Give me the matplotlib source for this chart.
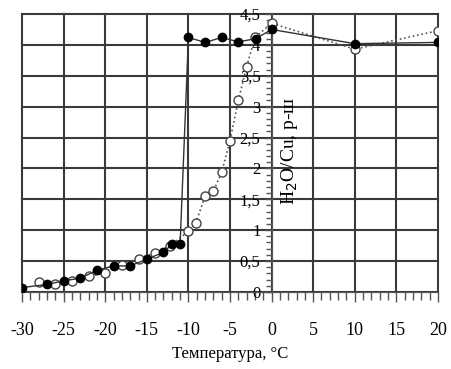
import numpy as np
import matplotlib
matplotlib.use('Agg')
import matplotlib.pyplot as plt
from matplotlib.ticker import MultipleLocator, FuncFormatter

# filled circles, solid line
t_solid = [-30, -27, -25, -23, -21, -19, -17, -15, -13, -12, -11, -10, -8, -6, -4, -1.9, 0, 10, 20]
r_solid = [0.07, 0.12, 0.18, 0.22, 0.35, 0.42, 0.42, 0.53, 0.64, 0.77, 0.78, 4.12, 4.04, 4.12, 4.05, 4.1, 4.25, 4.02, 4.04]

# open circles, dotted line
t_open = [-28, -26, -24, -22, -20, -18, -16, -14, -12.2, -10, -9.1, -8, -7, -6, -5, -4, -3, -2, 0, 10, 20]
r_open = [0.16, 0.12, 0.17, 0.25, 0.31, 0.44, 0.54, 0.63, 0.75, 0.98, 1.12, 1.55, 1.63, 1.94, 2.45, 3.1, 3.65, 4.12, 4.35, 3.93, 4.23]

plt.rcParams['font.family'] = ['Liberation Serif', 'DejaVu Serif']

fig = plt.figure(figsize=(4.51, 3.69), dpi=100)
ax = fig.add_axes([0.049, 0.209, 0.922, 0.753])

ax.plot(t_open, r_open, ':', color='#555555', lw=1.2, marker='o', ms=6.5,
        mfc='white', mec='#444444', mew=1.0, zorder=3)
ax.plot(t_solid, r_solid, '-', color='#333333', lw=1.0, marker='o', ms=6,
        mfc='black', mec='black', zorder=4)

ax.set_xlim(-30, 20)
ax.set_ylim(0, 4.5)
ax.xaxis.set_major_locator(MultipleLocator(5))
ax.xaxis.set_minor_locator(MultipleLocator(1))
ax.yaxis.set_major_locator(MultipleLocator(0.5))
ax.yaxis.set_minor_locator(MultipleLocator(0.1))

ax.grid(True, which='major', color='#3a3a3a', lw=1.5, clip_on=False)
ax.set_axisbelow(True)

ax.spines['left'].set_position(('data', 0))
ax.spines['top'].set_visible(False)
ax.spines['right'].set_visible(False)
ax.spines['left'].set_color('#555555')
ax.spines['bottom'].set_color('#555555')

ax.tick_params(axis='x', which='major', direction='out', length=7, width=1, pad=15,
               labelsize=13, color='#555555')
ax.tick_params(axis='x', which='minor', direction='out', length=6, width=1, color='#555555')
ax.tick_params(axis='y', which='major', direction='out', length=5, width=1, pad=3,
               labelsize=12, color='#555555')
ax.tick_params(axis='y', which='minor', direction='out', length=4, width=1, color='#555555')

ax.yaxis.set_major_formatter(FuncFormatter(lambda v, p: ('%g' % v).replace('.', ',')))
ax.xaxis.set_major_formatter(FuncFormatter(lambda v, p: '%g' % v))

ax.set_xlabel('Температура, °C', fontsize=12, labelpad=5)
ax.text(0.9, 2.28, 'H$_2$O/Cu, р-ш', rotation=90, fontsize=14,
        ha='left', va='center')

fig.savefig('out.png', dpi=100)
